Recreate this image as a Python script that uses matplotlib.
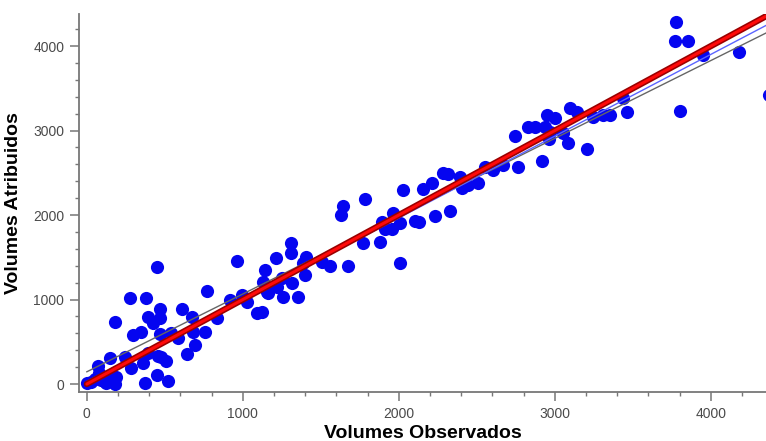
import numpy as np
import matplotlib.pyplot as plt

observados = [0, 28, 92, 124, 178, 188, 81, 71, 146, 242, 284, 359, 372, 447, 519,
              391, 455, 475, 507, 639, 691, 680, 757, 584, 542, 468, 344, 295, 178, 393,
              425, 468, 468, 607, 671, 832, 274, 378, 451, 771, 917, 992, 1024, 1088, 1120,
              960, 1142, 1131, 1152, 1163, 1217, 1249, 1259, 1355, 1313, 1398, 1387, 1404, 1210, 1306,
              1308, 1505, 1558, 1676, 1768, 1879, 2007, 1627, 1644, 1783, 2028, 1964, 1890, 1911, 1958,
              2007, 2103, 2131, 2232, 2328, 2157, 2211, 2285, 2317, 2392, 2403, 2445, 2509, 2552, 2606,
              2670, 2766, 2916, 2745, 2830, 2873, 2937, 2948, 3001, 2969, 2965, 3055, 3087, 3097, 3141,
              3205, 3247, 3311, 3354, 3436, 3461, 3775, 3771, 3852, 3949, 4183, 3803, 4375,
              55, 110, 140]
atribuidos = [10, 27, 47, 8, 0, 79, 127, 213, 304, 323, 186, 245, 12, 101, 41,
              367, 331, 320, 272, 361, 462, 615, 615, 541, 600, 598, 621, 586, 734, 796,
              718, 778, 893, 893, 796, 787, 1014, 1018, 1381, 1107, 994, 1053, 974, 837, 856,
              1462, 1349, 1211, 1092, 1073, 1151, 1251, 1033, 1033, 1192, 1290, 1436, 1506, 1488, 1554,
              1665, 1447, 1396, 1396, 1665, 1684, 1438, 2000, 2107, 2189, 2296, 2020, 1921, 1834, 1834,
              1902, 1929, 1914, 1992, 2051, 2304, 2382, 2501, 2485, 2446, 2316, 2355, 2382, 2572, 2533,
              2592, 2572, 2643, 2935, 3045, 3045, 3045, 3183, 3144, 2986, 2896, 2967, 2849, 3263, 3222,
              2778, 3163, 3183, 3183, 3388, 3222, 4288, 4063, 4063, 3893, 3925, 3234, 3420,
              60, 30, 90]

# fitted lines: (intercept, slope)
linha_11 = (0, 1.0)
linha_azul = (30, 0.968)
linha_cinza = (145, 0.921)

plt.rcParams['font.family'] = ['Liberation Sans', 'DejaVu Sans']

fig = plt.figure(figsize=(7.66, 4.41), dpi=100)
ax = fig.add_axes([0.103, 0.111, 0.897, 0.857])

ax.scatter(observados, atribuidos, s=90, color='#0505f0', linewidths=0, zorder=2)

xs = np.array([0, 4500])
ax.plot(xs, linha_cinza[0] + linha_cinza[1] * xs, color='#666666', lw=1.0, zorder=3)
ax.plot(xs, linha_azul[0] + linha_azul[1] * xs, color='#5a64ff', lw=1.0, zorder=3)
ax.plot(xs, linha_11[0] + linha_11[1] * xs, color='#9a0000', lw=4.5, zorder=4,
        solid_capstyle='round')
ax.plot(xs, linha_11[0] + linha_11[1] * xs, color='#ff0a0a', lw=2.2, zorder=5,
        solid_capstyle='round')

ax.set_xlim(-51, 4354)
ax.set_ylim(-95, 4379)
ax.set_xticks([0, 1000, 2000, 3000, 4000])
ax.set_yticks([0, 1000, 2000, 3000, 4000])
ax.set_xticks(np.arange(0, 4400, 200), minor=True)
ax.set_yticks(np.arange(0, 4400, 200), minor=True)

for s in ['top', 'right']:
    ax.spines[s].set_visible(False)
for s in ['left', 'bottom']:
    ax.spines[s].set_color('#777777')
    ax.spines[s].set_linewidth(1.3)

ax.tick_params(which='major', direction='out', length=6.5, width=1.1, color='#777777',
               labelsize=10, labelcolor='#4a4a4a', pad=4)
ax.tick_params(which='minor', direction='out', length=3, width=1.0, color='#777777')

ax.set_xlabel('Volumes Observados', fontsize=14, fontweight='bold', labelpad=3)
ax.set_ylabel('Volumes Atribuidos', fontsize=14, fontweight='bold', labelpad=8)

fig.savefig('out.png', dpi=100)
